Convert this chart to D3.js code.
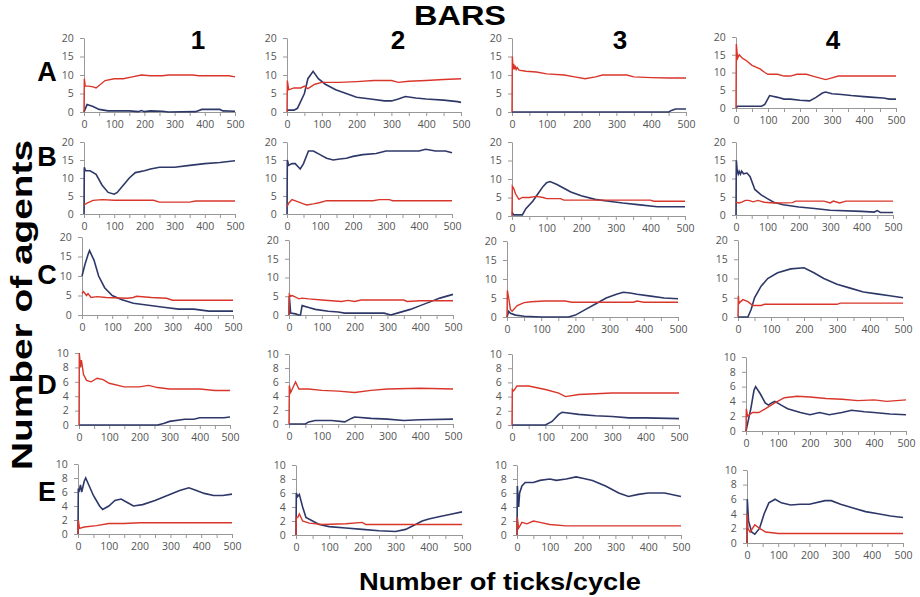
<!DOCTYPE html>
<html lang="en">
<head>
  <meta charset="utf-8">
  <title>BARS</title>
  <script src="https://d3js.org/d3.v7.min.js"></script>
  <style>
    body { margin: 0; background: #fff; }
    .tick text { font-family: "Open Sans", sans-serif; font-size: 10.5px; fill: #555; }
    .tick line, .domain { stroke: #999; }
  </style>
</head>
<body>
<script>
  // categories
  var rows = ['A', 'B', 'C', 'D', 'E'];
  var cols = ['1', '2', '3', '4'];
  var xTicks = [0, 100, 200, 300, 400, 500];
  var yTicksBig = [0, 5, 10, 15, 20];
  var yTicksSmall = [0, 2, 4, 6, 8, 10];

  // series values, [tick, agents]
  var a1Red = [[0,0],[1,9],[4,7],[15,7],[30,6.8],[40,6.5],[70,8.5],[100,9],[130,9],[160,9.5],[190,10],[220,9.8],[260,9.8],[280,10],[360,10],[380,9.8],[480,9.8],[500,9.5]];
  var a1Blue = [[0,0],[10,2],[30,1.5],[50,0.7],[80,0.3],[150,0.3],[180,0.1],[190,0.4],[200,0.1],[220,0.3],[260,0.2],[280,0],[370,0.1],[390,0.7],[450,0.7],[460,0.3],[500,0.2]];
  var a2Red = [[0,0],[1,8.5],[5,6],[20,6.5],[40,6.5],[50,7],[60,6.3],[80,7.5],[100,8],[150,8],[200,8.2],[250,8.5],[300,8.5],[320,8],[350,8.3],[400,8.5],[450,8.8],[500,9]];
  var a2Blue = [[0,0.5],[20,0.5],[30,1],[50,5],[60,9],[75,11],[90,9],[110,7.5],[140,6],[170,5],[200,4],[240,3.5],[280,3],[300,3],[320,3.5],[340,4.2],[370,3.8],[400,3.5],[450,3.2],[490,2.8],[500,2.6]];
  var a3Red = [[0,0],[1,15],[3,11.5],[5,13],[7,11.5],[9,12.5],[12,11.5],[15,12],[20,11.3],[40,11],[70,10.8],[100,10.3],[150,10],[180,9.5],[210,9],[240,9.5],[260,10],[330,10],[350,9.5],[400,9.3],[450,9.2],[500,9.2]];
  var a3Blue = [[0,0],[450,0],[460,0.5],[470,0.8],[500,0.8]];
  var a4Red = [[0,0],[1,18],[5,14],[10,15],[20,14],[30,13.5],[50,12],[75,11],[90,10],[100,9.5],[130,9.5],[150,9],[170,9],[190,9.5],[220,9.5],[240,9],[260,8.5],[280,8],[300,8.5],[320,9],[400,9],[500,9]];
  var a4Blue = [[0,0],[5,0.5],[80,0.5],[90,1],[105,3.5],[130,3],[150,2.5],[170,2.5],[200,2.2],[230,2],[250,3],[270,4.2],[280,4.5],[300,4],[330,3.8],[360,3.5],[400,3.2],[430,3],[460,2.8],[480,2.5],[500,2.5]];

  var b1Red = [[0,2.5],[10,3],[30,3.8],[60,4],[100,3.8],[230,3.8],[250,3.3],[350,3.3],[370,3.6],[500,3.6]];
  var b1Blue = [[0,0],[1,13],[5,12],[20,12],[40,11],[60,8],[80,6],[100,5.5],[110,6],[130,8],[150,10],[170,11.5],[200,12],[220,12.5],[250,13],[300,13],[350,13.5],[400,14],[450,14.3],[500,14.8]];
  var b2Red = [[0,2],[5,3],[15,4],[30,3.5],[50,2.8],[60,2.5],[80,2.8],[100,3.2],[120,3.7],[260,3.7],[280,4],[310,4],[320,3.7],[500,3.7]];
  var b2Blue = [[0,0],[1,15],[5,13.5],[15,14],[25,14],[35,13],[40,12.5],[50,14],[65,17.5],[80,17.5],[100,16.5],[120,15.5],[140,15],[160,15.3],[180,15.5],[200,16],[230,16.5],[270,16.8],[300,17.5],[350,17.5],[400,17.5],[420,18],[450,17.5],[480,17.5],[500,17]];
  var b3Red = [[0,0],[1,8],[5,7.5],[10,6],[20,4.5],[30,5],[50,5],[70,5.3],[90,5],[100,4.7],[140,4.7],[150,4.3],[400,4.3],[410,4],[500,4]];
  var b3Blue = [[0,1],[5,0.3],[30,0.3],[40,2],[60,4],[75,6],[90,8],[100,9],[110,9.3],[130,8.5],[150,7.5],[170,6.5],[200,5.5],[240,4.5],[280,4],[320,3.5],[370,3],[420,2.5],[500,2.5]];
  var b4Red = [[0,3.5],[10,3.3],[20,3.6],[30,4],[40,4],[55,3.6],[70,4],[90,3.5],[120,3.3],[180,3.4],[190,3.8],[280,3.8],[300,3.3],[310,3.8],[330,3.3],[350,3.8],[500,3.8]];
  var b4Blue = [[0,0],[1,15],[4,12],[7,11.2],[10,12],[14,11.2],[18,12],[24,11.3],[35,11.5],[45,10.5],[60,7],[80,5.5],[100,4.5],[120,3.5],[150,2.8],[200,2.2],[250,1.8],[300,1.3],[400,1],[440,0.8],[450,1.2],[460,0.7],[500,0.7]];

  var c1Red = [[0,5.5],[5,6],[15,5],[20,5.5],[30,4.5],[50,4.7],[80,4.5],[150,4.3],[170,4.5],[180,4.8],[230,4.5],[280,4.3],[300,3.8],[500,3.8]];
  var c1Blue = [[0,10],[10,13],[20,15.5],[25,16.5],[40,14],[55,10],[75,7],[100,5],[130,4],[170,3],[220,2.5],[270,2],[320,1.5],[370,1.5],[420,1],[500,1]];
  var c2Red = [[0,0],[1,5.5],[5,5],[10,5.2],[20,4.8],[30,4.3],[40,4.5],[60,4.3],[100,4],[130,3.8],[160,3.6],[180,3.9],[200,3.6],[220,4],[350,4],[360,3.6],[400,3.8],[500,3.8]];
  var c2Blue = [[0,0],[1,5],[5,0.5],[20,0.3],[30,0],[35,0],[40,2.5],[60,2],[80,1.5],[120,1],[150,0.8],[170,0.5],[290,0.5],[310,0],[330,0.5],[370,1.5],[400,2.5],[430,3.5],[460,4.5],[500,5.5]];
  var c3Red = [[0,0],[1,7],[5,5],[10,2],[15,1.5],[30,3],[50,3.8],[70,4],[110,4.2],[170,4.2],[190,3.9],[370,3.9],[380,4.2],[400,3.9],[500,3.9]];
  var c3Blue = [[0,0],[5,1.5],[10,1],[25,0.5],[50,0.2],[100,0],[180,0],[200,0.5],[230,2],[260,3.5],[290,5],[320,6],[340,6.5],[360,6.3],[380,6],[420,5.5],[460,5],[500,4.8]];
  var c4Red = [[0,0],[1,5.5],[3,3.5],[8,4],[15,4.5],[30,4],[45,3],[70,3],[80,3.3],[300,3.3],[310,3.6],[500,3.6]];
  var c4Blue = [[0,0],[30,0],[40,2],[50,5],[70,8],[90,10],[120,11.5],[160,12.5],[200,12.8],[230,11.5],[260,10],[300,8.5],[340,7.5],[380,6.5],[420,6],[460,5.5],[500,5]];

  var d1Red = [[0,0],[1,10],[5,8],[8,9],[15,7],[25,6.2],[40,6],[60,6.5],[80,6.3],[100,5.8],[150,5.3],[200,5.3],[230,5.5],[260,5.2],[300,5],[400,5],[450,4.8],[500,4.8]];
  var d1Blue = [[0,0],[260,0],[280,0.2],[300,0.5],[350,0.8],[380,0.8],[400,1],[480,1],[500,1.1]];
  var d2Red = [[0,0],[1,5.5],[5,4.5],[15,5.5],[20,6],[30,5],[60,5],[100,4.8],[150,4.7],[200,4.5],[250,4.8],[300,5],[400,5.1],[500,5]];
  var d2Blue = [[0,0],[50,0],[60,0.3],[80,0.5],[130,0.5],[170,0.3],[190,0.8],[200,1],[250,0.8],[300,0.7],[350,0.5],[400,0.6],[500,0.7]];
  var d3Red = [[0,0],[1,5],[5,4.8],[15,5.5],[50,5.5],[100,5],[140,4.5],[160,4],[200,4.3],[250,4.4],[300,4.5],[400,4.5],[500,4.5]];
  var d3Blue = [[0,0],[100,0],[120,0.5],[140,1.5],[150,1.8],[200,1.5],[250,1.3],[300,1.2],[350,1],[400,1],[500,0.9]];
  var d4Red = [[0,0],[1,3],[5,2],[20,2.5],[40,2.5],[60,3],[90,3.8],[120,4.5],[160,4.7],[200,4.6],[250,4.4],[300,4.3],[350,4.1],[400,4.2],[440,4],[500,4.2]];
  var d4Blue = [[0,0],[5,1],[10,2],[15,3],[25,5.5],[30,6],[45,5],[60,3.8],[70,3.5],[80,3.8],[90,4],[110,3.5],[130,3],[170,2.5],[200,2.2],[230,2.5],[260,2.2],[300,2.5],[330,2.8],[370,2.6],[400,2.5],[450,2.3],[500,2.2]];

  var e1Red = [[0,0],[1,2],[5,0.8],[20,1],[60,1.2],[100,1.5],[150,1.5],[200,1.6],[500,1.6]];
  var e1Blue = [[0,0],[1,6.5],[3,6],[8,7],[12,6],[20,7.5],[25,8],[35,7],[50,5.5],[70,4],[80,3.5],[100,4],[120,4.8],[140,5],[160,4.5],[180,4],[210,4.2],[250,4.8],[290,5.5],[330,6.2],[360,6.6],[380,6.3],[410,5.8],[440,5.5],[470,5.5],[500,5.7]];
  var e2Red = [[0,0],[1,2.5],[5,2.5],[10,3],[20,2],[40,1.7],[80,1.5],[150,1.6],[200,1.8],[210,1.5],[500,1.5]];
  var e2Blue = [[0,0],[1,6],[5,5.5],[10,5.8],[20,4],[30,2.5],[50,2],[70,1.5],[100,1.2],[150,1],[200,0.8],[250,0.6],[300,0.5],[330,0.8],[360,1.5],[380,2],[400,2.3],[430,2.6],[470,3],[500,3.3]];
  var e3Red = [[0,0],[1,2.5],[5,1],[15,1.8],[30,1.6],[50,2],[70,1.8],[100,1.5],[150,1.3],[500,1.3]];
  var e3Blue = [[0,0],[1,7],[5,4],[8,6],[15,7],[25,7.5],[50,7.5],[70,7.8],[100,8],[120,7.8],[150,8],[180,8.3],[200,8.1],[230,7.8],[270,7],[310,6],[340,5.5],[370,5.8],[400,6],[450,6],[500,5.5]];
  var e4Red = [[0,0],[1,4],[3,2],[10,1.5],[25,2.5],[40,2],[60,1.5],[100,1.3],[500,1.3]];
  var e4Blue = [[0,0],[1,6],[5,3],[15,1.5],[25,1.2],[40,2],[55,4],[70,5.5],[90,6],[110,5.5],[140,5.2],[170,5.3],[200,5.3],[250,5.8],[270,5.8],[300,5.3],[340,4.8],[380,4.3],[420,4],[460,3.7],[500,3.5]];

  var seriesRed = [[a1Red, a2Red, a3Red, a4Red], [b1Red, b2Red, b3Red, b4Red], [c1Red, c2Red, c3Red, c4Red], [d1Red, d2Red, d3Red, d4Red], [e1Red, e2Red, e3Red, e4Red]];
  var seriesBlue = [[a1Blue, a2Blue, a3Blue, a4Blue], [b1Blue, b2Blue, b3Blue, b4Blue], [c1Blue, c2Blue, c3Blue, c4Blue], [d1Blue, d2Blue, d3Blue, d4Blue], [e1Blue, e2Blue, e3Blue, e4Blue]];
  var yMax = [20, 20, 20, 10, 10];

  // layout: plot frames [x of 0, x of 500, y of max, y of 0] per panel
  var frames = [
    [[84, 235, 38, 112], [287, 461, 38, 112], [512, 686, 38, 112], [736, 896, 37, 108]],
    [[84, 235, 142, 214], [287, 452, 142, 214], [512, 685, 142, 216], [736, 893, 142, 215]],
    [[82, 233, 237, 315], [289, 453, 240, 315], [507, 678, 241, 317], [738, 903, 240, 317]],
    [[79, 230, 353, 425], [289, 453, 354, 424], [512, 679, 354, 425], [746, 906, 357, 431]],
    [[78, 232, 464, 534], [296, 462, 465, 535], [517, 681, 465, 535], [747, 903, 470, 543]]
  ];
  var rowLabelY = [72, 157, 275, 385, 492];
  var colLabelX = [198, 398, 620, 833];
  var red = '#d9362b', blue = '#2e3868';

  var svg = d3.select('body').append('svg')
    .attr('width', 920)
    .attr('height', 597);

  rows.forEach(function(r, i) {
    cols.forEach(function(c, j) {
      var f = frames[i][j];
      var x = d3.scaleLinear().domain([0, 500]).range([f[0], f[1]]);
      var y = d3.scaleLinear().domain([0, yMax[i]]).range([f[3], f[2]]);
      var g = svg.append('g');

      g.append('g')
        .attr('transform', 'translate(0,' + f[3] + ')')
        .call(d3.axisBottom(x).tickValues(d3.range(0, 501, 50)).tickSize(4).tickSizeOuter(0)
          .tickFormat(function(d) { return xTicks.indexOf(d) >= 0 ? d : ''; }))
        .call(function(a) { a.selectAll('text').attr('dy', '0.9em'); });

      g.append('g')
        .attr('transform', 'translate(' + f[0] + ',0)')
        .call(d3.axisLeft(y).tickValues(yMax[i] === 20 ? yTicksBig : yTicksSmall).tickSize(4).tickSizeOuter(0))
        .call(function(a) { a.selectAll('text').attr('dx', '-0.3em'); });

      var line = d3.line()
        .x(function(d) { return x(d[0]); })
        .y(function(d) { return y(d[1]); });

      g.append('path')
        .datum(seriesBlue[i][j])
        .attr('d', line)
        .attr('fill', 'none')
        .attr('stroke', blue)
        .attr('stroke-width', 1.6);
      g.append('path')
        .datum(seriesRed[i][j])
        .attr('d', line)
        .attr('fill', 'none')
        .attr('stroke', red)
        .attr('stroke-width', 1.4);
    });

    svg.append('text')
      .attr('x', 47).attr('y', rowLabelY[i])
      .attr('text-anchor', 'middle').attr('dominant-baseline', 'central')
      .style('font', 'bold 27px "Liberation Sans", Arial, sans-serif')
      .text(r);
  });

  cols.forEach(function(c, j) {
    svg.append('text')
      .attr('x', colLabelX[j]).attr('y', 40)
      .attr('text-anchor', 'middle').attr('dominant-baseline', 'central')
      .style('font', 'bold 26px "Liberation Sans", Arial, sans-serif')
      .text(c);
  });

  svg.append('text')
    .attr('x', 460).attr('y', 25)
    .attr('text-anchor', 'middle')
    .attr('textLength', 92).attr('lengthAdjust', 'spacingAndGlyphs')
    .style('font', 'bold 27px "Liberation Sans", Arial, sans-serif')
    .text('BARS');

  svg.append('text')
    .attr('transform', 'translate(32,305) rotate(-90)')
    .attr('text-anchor', 'middle')
    .attr('textLength', 330).attr('lengthAdjust', 'spacingAndGlyphs')
    .style('font', 'bold 29px "Liberation Sans", Arial, sans-serif')
    .text('Number of agents');

  svg.append('text')
    .attr('x', 500).attr('y', 590)
    .attr('text-anchor', 'middle')
    .attr('textLength', 282).attr('lengthAdjust', 'spacingAndGlyphs')
    .style('font', 'bold 24px "Liberation Sans", Arial, sans-serif')
    .text('Number of ticks/cycle');
</script>
</body>
</html>
